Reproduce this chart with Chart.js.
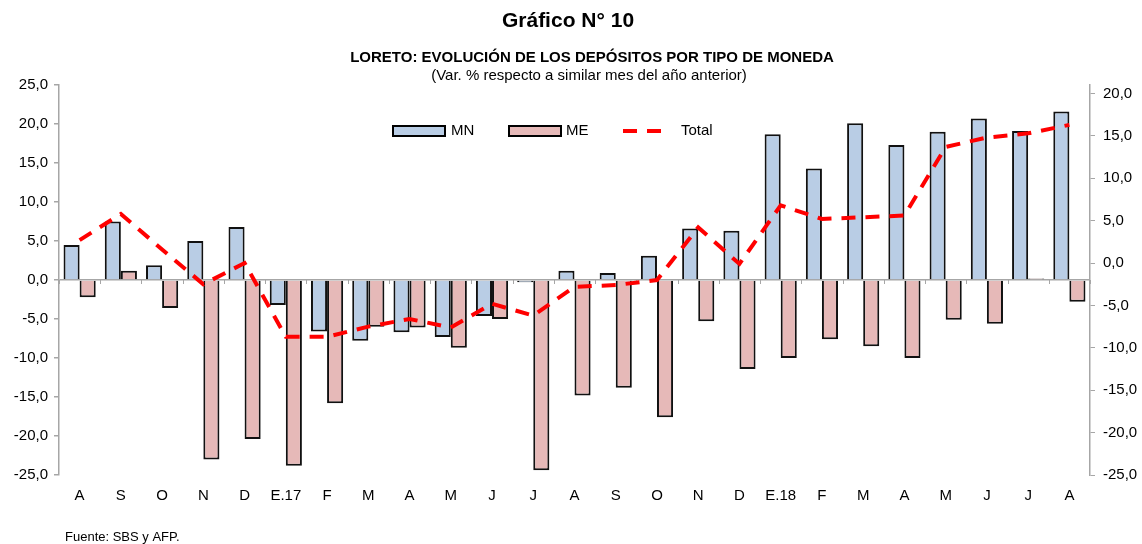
<!DOCTYPE html>
<html>
<head>
<meta charset="utf-8">
<script src="https://cdn.jsdelivr.net/npm/chart.js@4/dist/chart.umd.min.js"></script>
<style>
  body { margin: 0; background: #fff; }
  #wrap { position: relative; width: 1142px; height: 544px; }
</style>
</head>
<body>
<div id="wrap"><canvas id="grafico" width="1142" height="544"></canvas></div>
<script>
const meses = ['A', 'S', 'O', 'N', 'D', 'E.17', 'F', 'M', 'A', 'M', 'J', 'J', 'A', 'S', 'O', 'N', 'D', 'E.18', 'F', 'M', 'A', 'M', 'J', 'J', 'A'];
const valoresMN = [4.5, 7.5, 1.9, 5.0, 6.8, -3.2, -6.6, -7.8, -6.7, -7.3, -4.6, -0.3, 1.2, 0.9, 3.1, 6.6, 6.3, 18.7, 14.3, 20.1, 17.3, 19.0, 20.7, 19.1, 21.6];
const valoresME = [-2.2, 1.2, -3.6, -23.0, -20.4, -23.8, -15.8, -6.0, -6.1, -8.7, -5.0, -24.4, -14.8, -13.8, -17.6, -5.3, -11.4, -10.0, -7.6, -8.5, -10.0, -5.1, -5.6, 0.2, -2.8];
const valoresTotal = [2.7, 5.8, 1.6, -2.5, 0.0, -8.7, -8.7, -7.5, -6.6, -7.6, -4.8, -6.2, -2.8, -2.6, -2.0, 4.2, -0.1, 6.8, 5.2, 5.4, 5.6, 13.7, 14.8, 15.3, 16.3];
const ticksIzq = { min: -25, max: 25, paso: 5 };
const ticksDer = { min: -25, max: 21, paso: 5 };

const colorMN = '#B9CDE5';
const colorME = '#E6B9B8';
const colorTotal = '#FF0000';
const gris = '#A6A6A6';
const fuente = "'Liberation Sans', Arial, sans-serif";

const formato = v => v.toFixed(1).replace('.', ',');

// textos, leyenda y marcas pequenas sobre la linea cero
const extras = {
    id: 'extras',
    beforeDatasetsDraw(chart) {
        const ctx = chart.ctx;
        const x = chart.scales.x;
        const y0 = chart.scales.y.getPixelForValue(0);
        ctx.save();
        ctx.strokeStyle = gris;
        ctx.lineWidth = 1;
        for (let i = 0; i <= meses.length; i++) {
            const px = Math.round((x.getPixelForValue(i - 0.5))) + 0.5;
            ctx.beginPath();
            ctx.moveTo(px, y0);
            ctx.lineTo(px, y0 + 4);
            ctx.stroke();
        }
        ctx.restore();
    },
    afterDraw(chart) {
        const ctx = chart.ctx;
        ctx.save();
        ctx.fillStyle = '#000';
        ctx.textAlign = 'center';
        ctx.textBaseline = 'middle';
        ctx.font = 'bold 21px ' + fuente;
        ctx.fillText('Gráfico N° 10', 568, 21);
        ctx.font = 'bold 15px ' + fuente;
        ctx.fillText('LORETO: EVOLUCIÓN DE LOS DEPÓSITOS POR TIPO DE MONEDA', 592, 58);
        ctx.font = '15px ' + fuente;
        ctx.fillText('(Var. % respecto a similar mes del año anterior)', 589, 76);

        ctx.textAlign = 'left';
        ctx.font = '15px ' + fuente;
        const ds = chart.data.datasets;
        const cajas = [[393, 451], [509, 566]];
        [0, 1].forEach(i => {
            const [x0, xt] = cajas[i];
            ctx.fillStyle = ds[i].backgroundColor;
            ctx.fillRect(x0, 126, 52, 10);
            ctx.strokeStyle = '#000';
            ctx.lineWidth = 2;
            ctx.strokeRect(x0, 126, 52, 10);
            ctx.fillStyle = '#000';
            ctx.fillText(ds[i].label, xt, 131);
        });
        ctx.strokeStyle = colorTotal;
        ctx.lineWidth = 4;
        ctx.setLineDash([14, 10]);
        ctx.beginPath();
        ctx.moveTo(623, 131);
        ctx.lineTo(663, 131);
        ctx.stroke();
        ctx.setLineDash([]);
        ctx.fillStyle = '#000';
        ctx.fillText(ds[2].label, 681, 131);

        ctx.font = '13px ' + fuente;
        ctx.fillText('Fuente: SBS y AFP.', 65, 537);
        ctx.restore();
    }
};

const ctx = document.getElementById('grafico').getContext('2d');
new Chart(ctx, {
    type: 'bar',
    data: {
        labels: meses,
        datasets: [{
            label: 'MN',
            data: valoresMN,
            backgroundColor: colorMN,
            borderColor: '#111',
            borderWidth: 2,
            yAxisID: 'y',
            order: 2
        }, {
            label: 'ME',
            data: valoresME,
            backgroundColor: colorME,
            borderColor: '#111',
            borderWidth: 2,
            yAxisID: 'y',
            order: 2
        }, {
            type: 'line',
            label: 'Total',
            data: valoresTotal,
            borderColor: colorTotal,
            backgroundColor: colorTotal,
            borderWidth: 4,
            borderDash: [14, 10],
            pointRadius: 0,
            tension: 0,
            yAxisID: 'y1',
            order: 1
        }]
    },
    options: {
        responsive: false,
        animation: false,
        layout: { padding: { top: 85, left: 0, right: 0, bottom: 0 } },
        datasets: {
            bar: { categoryPercentage: 0.78, barPercentage: 1 }
        },
        plugins: {
            legend: { display: false },
            tooltip: { enabled: false }
        },
        scales: {
            x: {
                grid: { display: false, drawTicks: false },
                border: { display: false },
                ticks: { color: '#000', font: { family: fuente, size: 15 }, padding: 12, maxRotation: 0, autoSkip: false },
                afterFit: s => { s.height = 69; }
            },
            y: {
                position: 'left',
                min: ticksIzq.min,
                max: ticksIzq.max,
                grid: {
                    color: c => (c.tick && c.tick.value === 0 ? gris : 'rgba(0,0,0,0)'),
                    lineWidth: 1.5,
                    tickColor: gris,
                    tickLength: 5
                },
                border: { display: true, color: gris, width: 1.5 },
                ticks: {
                    stepSize: ticksIzq.paso,
                    color: '#000',
                    font: { family: fuente, size: 15 },
                    padding: 6,
                    callback: v => formato(v)
                },
                afterFit: s => { s.width = 59; }
            },
            y1: {
                position: 'right',
                min: ticksDer.min,
                max: ticksDer.max,
                grid: { drawOnChartArea: false, tickColor: gris, tickLength: 5 },
                border: { display: true, color: gris, width: 1.5 },
                ticks: {
                    stepSize: ticksDer.paso,
                    includeBounds: false,
                    color: '#000',
                    font: { family: fuente, size: 15 },
                    padding: 8,
                    callback: v => formato(v)
                },
                afterFit: s => { s.width = 52; }
            }
        }
    },
    plugins: [extras]
});
</script>
</body>
</html>
